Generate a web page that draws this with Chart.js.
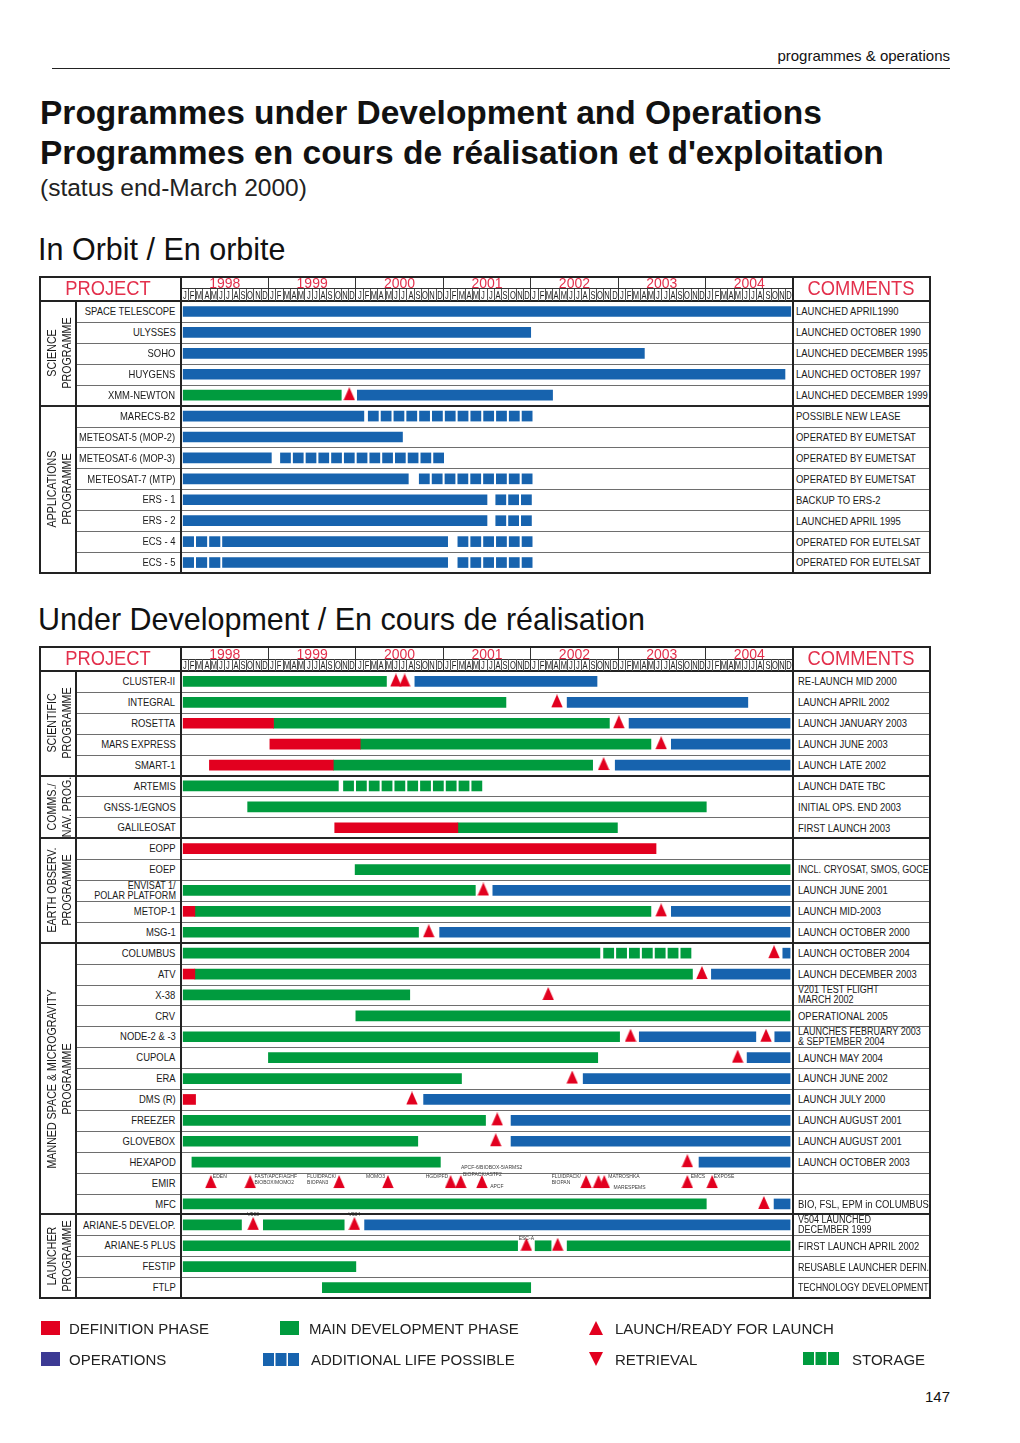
<!DOCTYPE html>
<html><head><meta charset="utf-8">
<script src="https://cdn.jsdelivr.net/npm/chart.js@4.4.0/dist/chart.umd.min.js"></script>
<style>
html,body{margin:0;padding:0;background:#fff;}
#page{position:relative;width:1020px;height:1443px;overflow:hidden;font-family:'Liberation Sans',Arial,Helvetica,sans-serif;color:#1a1a1a;}
.a{position:absolute;white-space:nowrap;line-height:1;}
.ln{position:absolute;}
canvas{position:absolute;z-index:2;}
</style></head><body><div id="page"></div>
<script>
// ---------------- colours ----------------
const RED = '#e2001f', GREEN = '#009b3e', BLUE = '#1763ae';
const TITLE_RED = '#e3304c', OPS_COLOR = '#3c3a94';

// ---------------- data (months counted from January 1998) ----------------
const years = ['1998','1999','2000','2001','2002','2003','2004'];
const monthLetters = ['J','F','M','A','M','J','J','A','S','O','N','D'];

// In orbit
const orbitProjects = ['SPACE TELESCOPE','ULYSSES','SOHO','HUYGENS','XMM-NEWTON','MARECS-B2',
  'METEOSAT-5 (MOP-2)','METEOSAT-6 (MOP-3)','METEOSAT-7 (MTP)','ERS - 1','ERS - 2','ECS - 4','ECS - 5'];
const orbitComments = ['LAUNCHED APRIL1990','LAUNCHED OCTOBER 1990','LAUNCHED DECEMBER 1995',
  'LAUNCHED OCTOBER 1997','LAUNCHED DECEMBER 1999','POSSIBLE NEW  LEASE','OPERATED BY EUMETSAT',
  'OPERATED BY EUMETSAT','OPERATED BY EUMETSAT','BACKUP TO  ERS-2','LAUNCHED APRIL 1995',
  'OPERATED FOR EUTELSAT','OPERATED FOR EUTELSAT'];
const orbitGroups = [[['SCIENCE','PROGRAMME'],5],[['APPLICATIONS','PROGRAMME'],8]];
const orbitDevelopment = [['XMM-NEWTON',0.3,22.0]];
const orbitOperations = [
  ['SPACE TELESCOPE',0.3,83.7],['ULYSSES',0.3,48.0],['SOHO',0.3,63.6],['HUYGENS',0.3,82.9],
  ['XMM-NEWTON',24.2,51.0],['MARECS-B2',0.3,25.1],['METEOSAT-5 (MOP-2)',0.3,30.4],
  ['METEOSAT-6 (MOP-3)',0.3,12.4],['METEOSAT-7 (MTP)',0.3,31.2],['ERS - 1',0.3,42.0],
  ['ERS - 2',0.3,42.0],['ECS - 4',5.7,36.6],['ECS - 5',5.7,36.6]];
const orbitExtraLife = [
  ['MARECS-B2',25.7,48.2],['METEOSAT-6 (MOP-3)',13.65,36.05],['METEOSAT-7 (MTP)',32.7,48.2],
  ['ERS - 1',43.2,48.1],['ERS - 2',43.2,48.1],['ECS - 4',0.3,5.35],['ECS - 4',38.0,48.2],
  ['ECS - 5',0.3,5.35],['ECS - 5',38.0,48.2]];
const orbitLaunches = [['XMM-NEWTON',23.1]];

// Under development
const devProjects = ['CLUSTER-II','INTEGRAL','ROSETTA','MARS EXPRESS','SMART-1','ARTEMIS',
  'GNSS-1/EGNOS','GALILEOSAT','EOPP','EOEP','ENVISAT 1/\nPOLAR PLATFORM','METOP-1','MSG-1',
  'COLUMBUS','ATV','X-38','CRV','NODE-2 & -3','CUPOLA','ERA','DMS (R)','FREEZER','GLOVEBOX',
  'HEXAPOD','EMIR','MFC','ARIANE-5 DEVELOP.','ARIANE-5 PLUS','FESTIP','FTLP'];
const devComments = ['RE-LAUNCH MID 2000','LAUNCH APRIL 2002','LAUNCH JANUARY 2003','LAUNCH JUNE 2003',
  'LAUNCH LATE 2002','LAUNCH DATE TBC','INITIAL OPS. END 2003','FIRST LAUNCH 2003','',
  'INCL. CRYOSAT, SMOS, GOCE','LAUNCH JUNE 2001','LAUNCH MID-2003','LAUNCH OCTOBER 2000',
  'LAUNCH OCTOBER 2004','LAUNCH DECEMBER 2003','V201 TEST FLIGHT\nMARCH 2002','OPERATIONAL 2005',
  'LAUNCHES FEBRUARY 2003\n& SEPTEMBER 2004','LAUNCH MAY 2004','LAUNCH JUNE 2002','LAUNCH JULY 2000',
  'LAUNCH AUGUST 2001','LAUNCH AUGUST 2001','LAUNCH OCTOBER 2003','','BIO, FSL, EPM in COLUMBUS',
  'V504 LAUNCHED\nDECEMBER 1999','FIRST LAUNCH APRIL 2002','REUSABLE LAUNCHER DEFIN.','TECHNOLOGY DEVELOPMENT'];
const devGroups = [[['SCIENTIFIC','PROGRAMME'],5],[['COMMS./','NAV. PROG.'],3],
  [['EARTH OBSERV.','PROGRAMME'],5],[['MANNED SPACE & MICROGRAVITY','PROGRAMME'],13],
  [['LAUNCHER','PROGRAMME'],4]];
const ENV = 'ENVISAT 1/\nPOLAR PLATFORM';
const devDefinition = [
  ['ROSETTA',0.3,12.7],['MARS EXPRESS',12.2,24.6],['SMART-1',3.9,20.9],['GALILEOSAT',21.1,38.0],
  ['EOPP',0.3,65.2],['METOP-1',0.3,1.9],['ATV',0.3,1.9],['DMS (R)',0.3,2.0]];
const devDevelopment = [
  ['CLUSTER-II',0.3,28.2],['INTEGRAL',0.3,44.6],['ROSETTA',12.7,58.8],['MARS EXPRESS',24.6,64.5],
  ['SMART-1',20.9,56.5],['ARTEMIS',0.3,21.6],['GNSS-1/EGNOS',9.15,72.1],['GALILEOSAT',38.0,59.9],
  ['EOEP',23.9,83.6],[ENV,0.3,40.4],['METOP-1',1.9,64.5],['MSG-1',0.3,32.6],['COLUMBUS',0.3,57.5],
  ['ATV',1.9,70.2],['X-38',0.3,31.4],['CRV',24.0,83.6],['NODE-2 & -3',0.3,60.2],['CUPOLA',12.0,57.2],
  ['ERA',0.3,38.5],['FREEZER',0.3,41.8],['GLOVEBOX',0.3,32.5],['HEXAPOD',1.5,35.6],['MFC',0.3,72.1],
  ['ARIANE-5 DEVELOP.',0.3,8.3],['ARIANE-5 DEVELOP.',11.3,22.4],['ARIANE-5 PLUS',0.3,46.2],
  ['ARIANE-5 PLUS',48.6,50.8],['ARIANE-5 PLUS',53.0,83.6],['FESTIP',0.3,24.0],['FTLP',19.4,48.0]];
const devOperations = [
  ['CLUSTER-II',32.1,57.1],['INTEGRAL',53.0,77.8],['ROSETTA',61.5,83.6],['MARS EXPRESS',67.3,83.6],
  ['SMART-1',59.6,83.6],[ENV,42.8,83.6],['METOP-1',67.3,83.6],['MSG-1',35.5,83.6],
  ['COLUMBUS',82.6,83.6],['ATV',72.8,83.6],['NODE-2 & -3',62.9,78.9],['NODE-2 & -3',81.5,83.6],
  ['CUPOLA',77.7,83.6],['ERA',55.2,83.6],['DMS (R)',33.3,83.6],['FREEZER',45.3,83.6],
  ['GLOVEBOX',45.3,83.6],['HEXAPOD',71.1,83.6],['MFC',81.4,83.6],['ARIANE-5 DEVELOP.',25.2,83.6]];
const devStorage = [['ARTEMIS',22.3,41.3],['COLUMBUS',58.0,70.0]];
const devLaunches = [
  ['CLUSTER-II',29.5],['CLUSTER-II',30.7],['INTEGRAL',51.6],['ROSETTA',60.1],['MARS EXPRESS',65.9],
  ['SMART-1',58.0],[ENV,41.5],['METOP-1',65.9],['MSG-1',34.0],['COLUMBUS',81.4],['ATV',71.5],
  ['X-38',50.4],['NODE-2 & -3',61.7],['NODE-2 & -3',80.3],['CUPOLA',76.4],['ERA',53.7],
  ['DMS (R)',31.7],['FREEZER',43.4],['GLOVEBOX',43.2],['HEXAPOD',69.5],['MFC',80.0],
  ['ARIANE-5 DEVELOP.',9.9],['ARIANE-5 DEVELOP.',23.8],['ARIANE-5 PLUS',47.4],['ARIANE-5 PLUS',51.7]];
const emirLaunches = [4.1,9.5,21.7,28.4,37.0,38.4,41.3,55.6,57.3,58.1,69.5,72.9];
const devNotes = [
  ['EMIR',4.1,'EDEN'],['EMIR',9.5,'FAST/APCF/AGHF'],['EMIR',9.5,'BIOBOX/MOMO2'],
  ['EMIR',21.7,'FLUIDPACK/'],['EMIR',21.7,'BIOPAN3'],['EMIR',28.4,'MOMO3'],['EMIR',37.0,'HGD/PFD'],
  ['EMIR',41.3,'APCF-6/BIOBOX-5/ARMS2'],['EMIR',41.3,'BIOPACK/ASTF2'],['EMIR',41.3,'APCF'],
  ['EMIR',55.6,'FLUIDPACK/'],['EMIR',55.6,'BIOPAN'],['EMIR',58.1,'MATROSHKA'],['EMIR',58.1,'MARESPEMS'],
  ['EMIR',69.5,'EMCS'],['EMIR',72.9,'EXPOSE'],
  ['ARIANE-5 DEVELOP.',9.9,'V503'],['ARIANE-5 DEVELOP.',23.8,'V504'],['ARIANE-5 PLUS',47.4,'ESC-A']];

// ---------------- layout (styles only) ----------------
const noteLayout = [
  [2,-5.5,'left'],[4.3,-5.5,'left'],[4.3,0.5,'left'],[-32,-5.5,'left'],[-32,0.5,'left'],
  [-3,-5.5,'right'],[-2.4,-5.5,'right'],[-21,-14,'left'],[-19,-7.2,'left'],[8.3,4.8,'left'],
  [-34.3,-5.5,'left'],[-34.3,0.5,'left'],[4,-5.5,'left'],[9.3,5.5,'left'],[3.4,-5.5,'left'],
  [1.6,-5.5,'left'],[0,-8.5,'center'],[0,-8.5,'center'],[0,-6,'center']];
const T1 = {top:277, split:288.5, rowsTop:301, height:272};
const T2 = {top:647, split:659, rowsTop:671, height:627};
const TL_LEFT = 181, TL_WIDTH = 612;

const page = document.getElementById('page');
function line(x,y,w,h,c,z){
  const d=document.createElement('div'); d.className='ln';
  Object.assign(d.style,{left:x+'px',top:y+'px',width:w+'px',height:h+'px',background:c||'#222',zIndex:z||1});
  page.appendChild(d); return d;
}
function txt(str,x,base,size,o){
  o=o||{};
  const d=document.createElement('div'); d.className='a'; d.textContent=str;
  d.style.top=(base-0.8465*size)+'px'; d.style.fontSize=size+'px';
  if(o.bold) d.style.fontWeight='bold';
  d.style.color=o.color||'#1a1a1a';
  if(o.ls) d.style.letterSpacing=o.ls+'px';
  d.style.zIndex=4;
  page.appendChild(d);
  let sx=o.sx||1;
  if(o.maxW){ const w=d.offsetWidth; if(w*sx>o.maxW) sx=o.maxW/w; }
  if(o.align==='right'){d.style.right=(1020-x)+'px';d.style.transformOrigin='right center';d.style.transform='scaleX('+sx+')';}
  else if(o.align==='center'){d.style.left=x+'px';d.style.transform='translateX(-50%) scaleX('+sx+')';}
  else {d.style.left=x+'px';d.style.transformOrigin='left center';d.style.transform='scaleX('+sx+')';}
  return d;
}
function vtext(lines,cx,cy,size,lh,sx){
  const d=document.createElement('div'); d.className='a';
  Object.assign(d.style,{left:cx+'px',top:cy+'px',fontSize:size+'px',lineHeight:lh+'px',textAlign:'center',color:'#1a1a1a',zIndex:4});
  d.innerHTML=lines.join('<br>');
  d.style.transform='translate(-50%,-50%) rotate(-90deg) scaleX('+sx+')';
  page.appendChild(d);
}
function triImg(){
  const c=document.createElement('canvas'); c.width=12; c.height=16;
  const g=c.getContext('2d'); g.fillStyle=RED; g.beginPath();
  g.moveTo(0.3,13); g.lineTo(6,0); g.lineTo(11.7,13); g.closePath(); g.fill(); return c;
}
const TRI = triImg();
function squares(segs){
  const period=1.75, gap=0.37, out=[];
  segs.forEach(([p,s,e])=>{
    const n=Math.max(1,Math.round((e-s+gap)/period)); const w=(e-s+gap)/n;
    for(let i=0;i<n;i++) out.push({x:[s+i*w,s+i*w+w-gap],y:p});
  });
  return out;
}
const segs = arr => arr.map(([p,s,e])=>({x:[s,e],y:p}));

const notesPlugin = {
  id:'notes',
  afterDatasetsDraw(chart){
    const notes = chart.options.plugins.notes && chart.options.plugins.notes.items;
    if(!notes) return;
    const ctx=chart.ctx, xs=chart.scales.x, ys=chart.scales.y;
    ctx.save(); ctx.fillStyle='#3a3a3a'; ctx.font='5px "Liberation Sans", Arial, sans-serif'; ctx.textBaseline='alphabetic';
    notes.forEach(([p,m,t],i)=>{
      const [dx,dy,al]=noteLayout[i];
      ctx.textAlign=al;
      ctx.fillText(t, xs.getPixelForValue(m)+dx, ys.getPixelForValue(p)+dy);
    });
    ctx.restore();
  }
};

function makeChart(T,labels,barSets,launches,notes){
  const cv=document.createElement('canvas');
  cv.width=TL_WIDTH; cv.height=T.height;
  Object.assign(cv.style,{left:TL_LEFT+'px',top:T.rowsTop+'px',width:TL_WIDTH+'px',height:T.height+'px'});
  page.appendChild(cv);
  const datasets=barSets.map(s=>({type:'bar',data:s.data,backgroundColor:s.color,barThickness:10,grouped:false,borderWidth:0,borderSkipped:false}));
  datasets.push({type:'scatter',data:launches.map(([p,m])=>({x:m,y:p})),pointStyle:TRI,pointRadius:6,pointHoverRadius:6,backgroundColor:RED,borderWidth:0,clip:false});
  return new Chart(cv,{
    type:'bar',
    data:{labels:labels,datasets:datasets},
    options:{indexAxis:'y',responsive:false,animation:false,events:[],devicePixelRatio:1,
      layout:{padding:0,autoPadding:false},
      plugins:{legend:{display:false},tooltip:{enabled:false},notes:{items:notes}},
      scales:{x:{type:'linear',min:0,max:84,display:false},y:{type:'category',display:false,offset:true}}},
    plugins:[notesPlugin]
  });
}

function buildTable(T,chart,projects,comments,groups,commentX,commentSx){
  const xs=chart.scales.x, ys=chart.scales.y;
  const X=m=>TL_LEFT+xs.getPixelForValue(m);
  const rowC=i=>T.rowsTop+ys.getPixelForValue(i);
  const n=projects.length, bottom=T.rowsTop+T.height;
  const rowTop=i=>T.rowsTop+i*T.height/n;
  for(let i=1;i<n;i++) line(76,Math.round(rowTop(i))-0.5,854,1,'#6e6e6e',1);
  let acc=0;
  groups.forEach(([lines,count])=>{
    const y0=rowTop(acc), y1=rowTop(acc+count);
    if(acc>0) line(40,Math.round(y0)-1,890,1.8,'#262626',3);
    vtext(lines,58.5,(y0+y1)/2,13,15.4,0.82);
    acc+=count;
  });
  // header
  line(181,T.split-0.5,612,1,'#333',3);
  line(40,T.rowsTop-1,890,1.6,'#222',3);
  years.forEach((y,k)=>{
    if(k>0) line(X(k*12)-0.5,T.top,1,T.rowsTop-T.top,'#333',3);
    txt(y,X(k*12+6),T.split-0.2,14,{align:'center',color:TITLE_RED});
  });
  for(let m=0;m<84;m++){
    if(m%12) line(X(m)-0.4,T.split,0.8,T.rowsTop-T.split,'#555',3);
    txt(monthLetters[m%12],X(m+0.5),T.rowsTop-1.8,10.5,{align:'center',sx:0.72});
  }
  txt('PROJECT',107.5,T.top+18.7,19.5,{align:'center',color:TITLE_RED,sx:0.94});
  txt('COMMENTS',860.5,T.top+18.7,19.5,{align:'center',color:TITLE_RED,sx:0.94});
  const pOpt={align:'right',sx:0.86,maxW:96};
  projects.forEach((p,i)=>{
    const c=rowC(i), parts=p.split('\n');
    if(parts.length===1) txt(p,175.5,c+4,11,pOpt);
    else {txt(parts[0],175.5,c-1.8,10.5,pOpt); txt(parts[1],175.5,c+8.5,10.5,pOpt);}
  });
  const cOpt={sx:commentSx,maxW:929-commentX};
  comments.forEach((t,i)=>{
    if(!t) return;
    const c=rowC(i), parts=t.split('\n');
    if(parts.length===1) txt(t,commentX,c+3.8,10.5,cOpt);
    else {txt(parts[0],commentX,c-1.3,10,cOpt); txt(parts[1],commentX,c+8.7,10,cOpt);}
  });
  // frame
  line(39,T.top-1,892,2,'#222',3);
  line(39,bottom-1,892,2,'#222',3);
  line(39,T.top-1,2,bottom-T.top+2,'#222',3);
  line(929,T.top-1,2,bottom-T.top+2,'#222',3);
  line(75.3,T.rowsTop,1.5,bottom-T.rowsTop,'#222',3);
  line(180,T.top,2,bottom-T.top,'#222',3);
  line(791.8,T.top,2,bottom-T.top,'#222',3);
}

// ---------------- page texts ----------------
txt('programmes & operations',950,61,15,{align:'right',color:'#111'});
line(52,67.5,898,1,'#222',1);
txt('Programmes under Development and Operations',40,124,33.5,{bold:true,color:'#111'});
txt("Programmes en cours de réalisation et d'exploitation",40,164,33.5,{bold:true,color:'#111'});
txt('(status end-March 2000)',40,197,24.5,{color:'#222'});
txt('In Orbit / En orbite',38,260,30.5,{color:'#111'});
txt('Under Development / En cours de réalisation',38,630,30.5,{color:'#111'});
txt('147',950,1401.5,15,{align:'right',color:'#111'});

// ---------------- charts ----------------
const chart1 = makeChart(T1,orbitProjects,[
  {data:segs(orbitDevelopment),color:GREEN},
  {data:segs(orbitOperations),color:BLUE},
  {data:squares(orbitExtraLife),color:BLUE}],orbitLaunches,null);
buildTable(T1,chart1,orbitProjects,orbitComments,orbitGroups,796,0.9);

const chart2 = makeChart(T2,devProjects,[
  {data:segs(devDefinition),color:RED},
  {data:segs(devDevelopment),color:GREEN},
  {data:segs(devOperations),color:BLUE},
  {data:squares(devStorage),color:GREEN}],
  devLaunches.concat(emirLaunches.map(m=>['EMIR',m])),devNotes);
buildTable(T2,chart2,devProjects,devComments,devGroups,798,0.9);

// ---------------- legend ----------------
function svgShape(x,y,w,h,inner){
  const d=document.createElement('div'); d.className='a';
  Object.assign(d.style,{left:x+'px',top:y+'px',width:w+'px',height:h+'px',zIndex:4});
  d.innerHTML='<svg width="'+w+'" height="'+h+'" xmlns="http://www.w3.org/2000/svg">'+inner+'</svg>';
  page.appendChild(d);
}
svgShape(41,1321,19,14,'<rect width="19" height="14" fill="'+RED+'"/>');
txt('DEFINITION PHASE',69,1333.4,15,{color:'#222'});
svgShape(280,1321,19,14,'<rect width="19" height="14" fill="'+GREEN+'"/>');
txt('MAIN DEVELOPMENT PHASE',309,1333.4,15,{color:'#222'});
svgShape(589,1321,14,14,'<polygon points="0,14 7,0 14,14" fill="'+RED+'"/>');
txt('LAUNCH/READY FOR LAUNCH',615,1333.4,15,{color:'#222'});
svgShape(41,1352,19,14,'<rect width="19" height="14" fill="'+OPS_COLOR+'"/>');
txt('OPERATIONS',69,1364.4,15,{color:'#222'});
svgShape(263,1353,36,13,'<rect x="0" width="11" height="13" fill="'+BLUE+'"/><rect x="12.5" width="11" height="13" fill="'+BLUE+'"/><rect x="25" width="11" height="13" fill="'+BLUE+'"/>');
txt('ADDITIONAL LIFE POSSIBLE',311,1364.4,15,{color:'#222'});
svgShape(589,1352,14,14,'<polygon points="0,0 14,0 7,14" fill="'+RED+'"/>');
txt('RETRIEVAL',615,1364.4,15,{color:'#222'});
svgShape(803,1352,36,13,'<rect x="0" width="11" height="13" fill="'+GREEN+'"/><rect x="12.5" width="11" height="13" fill="'+GREEN+'"/><rect x="25" width="11" height="13" fill="'+GREEN+'"/>');
txt('STORAGE',852,1364.4,15,{color:'#222'});
</script>
</body></html>
